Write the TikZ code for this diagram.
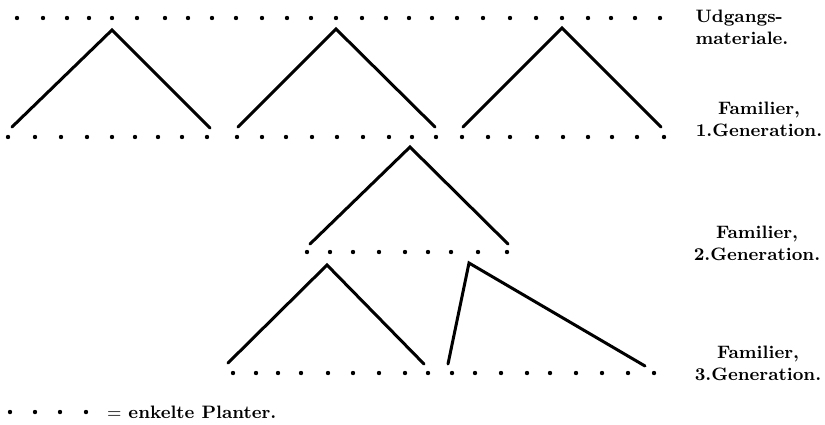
\documentclass[tikz,border=0pt]{standalone}
\usetikzlibrary{positioning}

\begin{document}
\begin{tikzpicture}[
        x=0.5pt, y=-0.5pt,
        plant/.style={circle, fill=black, inner sep=0pt, minimum size=2.2pt},
        branch/.style={line width=1.5pt, line cap=round, line join=miter},
        gen_label/.style={font=\fontsize{9}{11}\selectfont\bfseries, align=center},
        key_text/.style={font=\fontsize{9}{11}\selectfont\bfseries, inner sep=0pt}
    ]
        \useasboundingbox (0,0) rectangle (825,424);

        % rows of single plants
        \foreach \x [count=\i] in {17,43,67,89,112,137,165,188,212,236,262,287,311,336,362,386,409,432,457,483,510,536,562,588,611,635,660}
            \node[plant] (start\i) at (\x,18) {};
        \foreach \x [count=\i] in {8,35,61,87,112,135,158,182,207,237,262,286,312,337,363,389,412,436,462,488,510,537,563,588,612,637,664}
            \node[plant] (first\i) at (\x,137) {};
        \foreach \x [count=\i] in {307,330,353,379,405,428,451,478,507}
            \node[plant] (second\i) at (\x,252) {};
        \foreach \x [count=\i] in {233,256,278,301,328,353,379,405,428,452,475,501,527,550,576,602,628,654}
            \node[plant] (third\i) at (\x,373) {};

        % families
        \coordinate (top_a) at (112,30);
        \coordinate (top_b) at (336,29);
        \coordinate (top_c) at (562,28);
        \coordinate (top_d) at (410,147);
        \coordinate (top_e) at (327,265);
        \coordinate (top_f) at (469,263);

        \draw[branch] (12,127) -- (top_a) -- (210,128);
        \draw[branch] (238,127) -- (top_b) -- (435,127);
        \draw[branch] (463,127) -- (top_c) -- (661,127);
        \draw[branch] (310,244) -- (top_d) -- (508,244);
        \draw[branch] (228,363) -- (top_e) -- (424,364);
        \draw[branch] (448,364) -- (top_f) -- (645,366);

        % generation labels
        \node[gen_label, align=left] (lbl_start) at (742,27) {Udgangs-\\materiale.};
        \node[gen_label] (lbl_first) at (759,119) {Familier,\\1.Generation.};
        \node[gen_label] (lbl_second) at (757,243) {Familier,\\2.Generation.};
        \node[gen_label] (lbl_third) at (758,363) {Familier,\\3.Generation.};

        % key
        \foreach \x [count=\i] in {10,35,60,86}
            \node[plant] (key\i) at (\x,412) {};
        \node[key_text, right=9pt of key4] (key_txt) {$=$ enkelte Planter.};

    \end{tikzpicture}
\end{document}
